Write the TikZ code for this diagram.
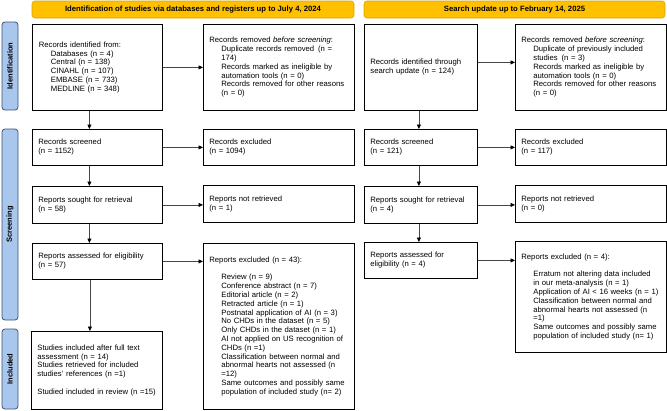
\documentclass[tikz,border=0pt]{standalone}
\usepackage{fontspec}
\setmainfont{Liberation Sans}
\usetikzlibrary{arrows.meta,calc}
\definecolor{hdr}{HTML}{FFC000}
\definecolor{hdrline}{HTML}{D9A300}
\definecolor{side}{HTML}{A9C6EC}
\definecolor{sideline}{HTML}{3A5576}
\begin{document}
\begin{tikzpicture}[x=1pt,y=-1pt,
  box/.style={draw=black, line width=0.8pt, anchor=north west, inner xsep=6pt, inner ysep=0pt,
    align=left, font=\fontsize{7.7}{8.8}\selectfont},
  hdrbox/.style={draw=hdrline, fill=hdr, line width=0.6pt, rounded corners=3pt, minimum height=17pt,
    inner sep=0pt, font=\fontsize{7.7}{8.8}\selectfont\bfseries},
  sidebox/.style={draw=sideline, fill=side, line width=0.8pt, rounded corners=3pt, rotate=90,
    minimum height=16pt, inner sep=0pt, font=\fontsize{7.5}{8.5}\selectfont\bfseries},
  arr/.style={draw=gray!55!black, line width=0.7pt, -{Triangle[length=4.5pt,width=4pt,color=black]}}
]
\useasboundingbox (0,0) rectangle (667,410);
\def\ind{\hspace*{12pt}}
% headers
\node[hdrbox, minimum width=322pt] (h1) at (193,9.5) {Identification of studies via databases and registers up to July 4, 2024};
\node[hdrbox, minimum width=301pt] (h2) at (514.5,9.5) {Search update up to February 14, 2025};
% side labels
\node[sidebox, minimum width=88pt] (s1) at (10,66) {Identification};
\node[sidebox, minimum width=191pt] (s2) at (10,224.5) {Screening};
\node[sidebox, minimum width=80pt] (s3) at (10,369) {Included};
% left column
\node[box, text width=118pt, minimum height=86pt, inner xsep=6.5pt, text width=117pt] (a1) at (32,24) {Records identified from:\\
\ind Databases (n = 4)\\ \ind Central (n = 138)\\ \ind CINAHL (n = 107)\\ \ind EMBASE (n = 733)\\ \ind MEDLINE (n = 348)};
\node[box, text width=139pt, minimum height=86pt] (b1) at (203,24) {Records removed \textit{before screening}:\\
\ind Duplicate records removed\enspace(n =\\ \ind 174)\\ \ind Records marked as ineligible by\\ \ind automation tools (n = 0)\\ \ind Records removed for other reasons\\ \ind (n = 0)};
\node[box, text width=118pt, minimum height=36pt] (a2) at (32,129) {Records screened\\(n = 1152)};
\node[box, text width=139pt, minimum height=36pt] (b2) at (203,129) {Records excluded\\(n = 1094)};
\node[box, text width=118pt, minimum height=37pt] (a3) at (32,186) {Reports sought for retrieval\\(n = 58)};
\node[box, text width=139pt, minimum height=37pt] (b3) at (203,185) {Reports not retrieved\\(n = 1)};
\node[box, text width=118pt, minimum height=36pt] (a4) at (32,243) {Reports assessed for eligibility\\(n = 57)};
\node[box, text width=139pt, minimum height=166pt] (b4) at (203,243) {Reports excluded (n = 43):\\[8.8pt]
\ind Review (n = 9)\\ \ind Conference abstract (n = 7)\\ \ind Editorial article (n = 2)\\ \ind Retracted article (n = 1)\\
\ind Postnatal application of AI (n = 3)\\ \ind No CHDs in the dataset (n = 5)\\ \ind Only CHDs in the dataset (n = 1)\\
\ind AI not applied on US recognition of\\ \ind CHDs (n =1)\\ \ind Classification between normal and\\
\ind abnormal hearts not assessed (n\\ \ind =12)\\ \ind Same outcomes and possibly same\\ \ind population of included study (n= 2)};
\node[box, text width=119pt, minimum height=78pt] (a5) at (31,331) {Studies included after full text\\assessment (n = 14)\\Studies retrieved for included\\studies' references (n =1)\\[8.8pt]Studied included in review (n =15)};
% right column
\node[box, text width=101pt, minimum height=86pt] (c1) at (364,24) {Records identified through\\search update (n = 124)};
\node[box, text width=139pt, minimum height=86pt] (d1) at (515,24) {Records removed \textit{before screening}:\\
\ind Duplicate of previously included\\ \ind studies\enspace(n = 3)\\ \ind Records marked as ineligible by\\ \ind automation tools (n = 0)\\ \ind Records removed for other reasons\\ \ind (n = 0)};
\node[box, text width=101pt, minimum height=36pt] (c2) at (364,129) {Records screened\\(n = 121)};
\node[box, text width=139pt, minimum height=36pt] (d2) at (515,129) {Records excluded\\(n = 117)};
\node[box, text width=101pt, minimum height=37pt] (c3) at (364,186) {Reports sought for retrieval\\(n = 4)};
\node[box, text width=139pt, minimum height=37pt] (d3) at (515,185) {Reports not retrieved\\(n = 0)};
\node[box, text width=101pt, minimum height=36pt] (c4) at (364,242) {Reports assessed for\\eligibility (n = 4)};
\node[box, text width=139pt, minimum height=111pt] (d4) at (515,241) {Reports excluded (n = 4):\\[8.8pt]
\ind Erratum not altering data included\\ \ind in our meta-analysis (n = 1)\\ \ind Application of AI < 16 weeks (n = 1)\\
\ind Classification between normal and\\ \ind abnormal hearts not assessed (n\\ \ind =1)\\
\ind Same outcomes and possibly same\\ \ind population of included study (n= 1)};
% connectors left
\draw[arr] (a1.east) -- (b1.west);
\draw[arr] (a2.east) -- (b2.west);
\draw[arr] (a3.east) -- (a3.east -| b3.west);
\draw[arr] (a4.east) -- (a4.east -| b4.west);
\draw[arr] ([xshift=-8pt]a1.south) -- ([xshift=-8pt]a2.north);
\draw[arr] ([xshift=-8pt]a2.south) -- ([xshift=-8pt]a3.north);
\draw[arr] ([xshift=-8pt]a3.south) -- ([xshift=-8pt]a4.north);
\draw[arr] ([xshift=-7.5pt]a4.south) -- ([xshift=-7.5pt]a4.south |- a5.north);
% connectors right
\draw[arr] ([yshift=5pt]c1.east) -- ([yshift=5pt]d1.west);
\draw[arr] (c2.east) -- (d2.west);
\draw[arr] (c3.east) -- (c3.east -| d3.west);
\draw[arr] (c4.east) -- (c4.east -| d4.west);
\draw[arr] ([xshift=-2pt]c1.south) -- ([xshift=-2pt]c2.north);
\draw[arr] ([xshift=-2pt]c2.south) -- ([xshift=-2pt]c3.north);
\draw[arr] ([xshift=-2pt]c3.south) -- ([xshift=-2pt]c4.north);
\end{tikzpicture}
\end{document}
